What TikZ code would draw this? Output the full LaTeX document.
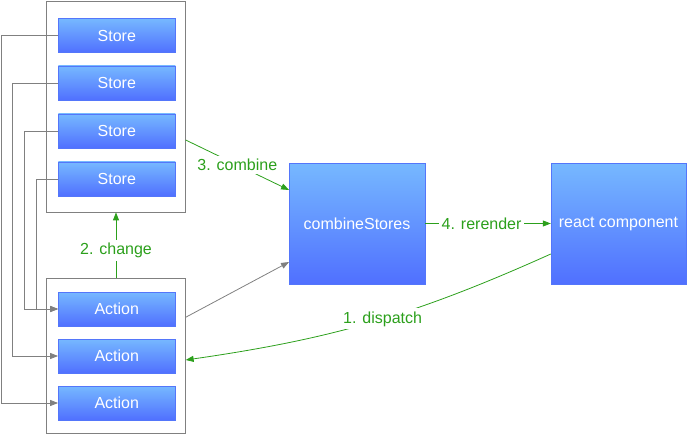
\documentclass[tikz,border=0pt]{standalone}
\usepackage{fontspec}
\setmainfont{Liberation Sans}
\usetikzlibrary{arrows.meta,positioning,calc}

\definecolor{boxtop}{RGB}{118,184,255}
\definecolor{boxbot}{RGB}{80,112,255}
\definecolor{boxedge}{RGB}{84,118,250}
\definecolor{flowgreen}{RGB}{44,160,28}
\definecolor{linegray}{RGB}{128,128,128}

\begin{document}
\begin{tikzpicture}[x=1pt,y=-1pt,
    font=\fontsize{16}{19}\selectfont,
    unit/.style={draw=boxedge,top color=boxtop,bottom color=boxbot,text=white,
        minimum width=117pt,minimum height=34pt,inner sep=0pt},
    group/.style={draw=linegray,line width=0.8pt,minimum width=138.5pt,inner sep=0pt},
    link/.style={draw=linegray,line width=0.8pt,-{Triangle[length=8pt,width=6pt]}},
    flowline/.style={draw=flowgreen,line width=0.8pt,-{Triangle[length=8pt,width=6pt]}},
    flowlabel/.style={fill=white,text=flowgreen,inner sep=3pt}]
    \useasboundingbox (0,0) rectangle (687,435);

    % Groups
    \node[group,minimum height=211pt] (storegrp) at (116,106.5) {};
    \node[group,minimum height=155pt] (actgrp) at (116,356.3) {};

    % Stores
    \node[unit] (s1) at (116.8,35.5) {Store};
    \node[unit] (s2) at (116.8,83) {Store};
    \node[unit] (s3) at (116.8,131) {Store};
    \node[unit] (s4) at (116.8,179) {Store};

    % Actions
    \node[unit] (a1) at (116.8,309) {Action};
    \node[unit] (a2) at (116.8,356) {Action};
    \node[unit] (a3) at (116.8,403) {Action};

    % Big boxes
    \node[unit,minimum width=135.5pt,minimum height=120.5pt] (comb) at (357,223.5) {combineStores};
    \node[unit,minimum width=135pt,minimum height=120.5pt] (react) at (618.5,223.5) {react component};

    % Store -> Action wires
    \draw[link] (s1.west) -- ++(-57,0) |- (a3.west);
    \draw[link] (s2.west) -- ++(-45.3,0) |- (a2.west);
    \draw[link] (s3.west) -- ++(-33.3,0) |- (a1.west);
    \draw[link] (s4.west) -- ++(-22,0) |- (a1.west);

    % Actions -> combineStores
    \draw[link] ([yshift=39pt]actgrp.east) -- ([yshift=-38.5pt]comb.west);

    % Numbered steps
    \draw[flowline] (actgrp.north) -- node[flowlabel,pos=0.42] {2. change} (storegrp.south);
    \draw[flowline] ([yshift=-33.5pt]storegrp.east) -- node[flowlabel] {3. combine} ([yshift=33.5pt]comb.west);
    \draw[flowline] (comb.east) -- node[flowlabel,pos=0.45] {4. rerender} (react.west);
    \draw[flowline] ([yshift=-30.5pt]react.west) to[bend left=8] node[flowlabel,pos=0.47] {1. dispatch} ([yshift=-3.7pt]actgrp.east);
\end{tikzpicture}
\end{document}
